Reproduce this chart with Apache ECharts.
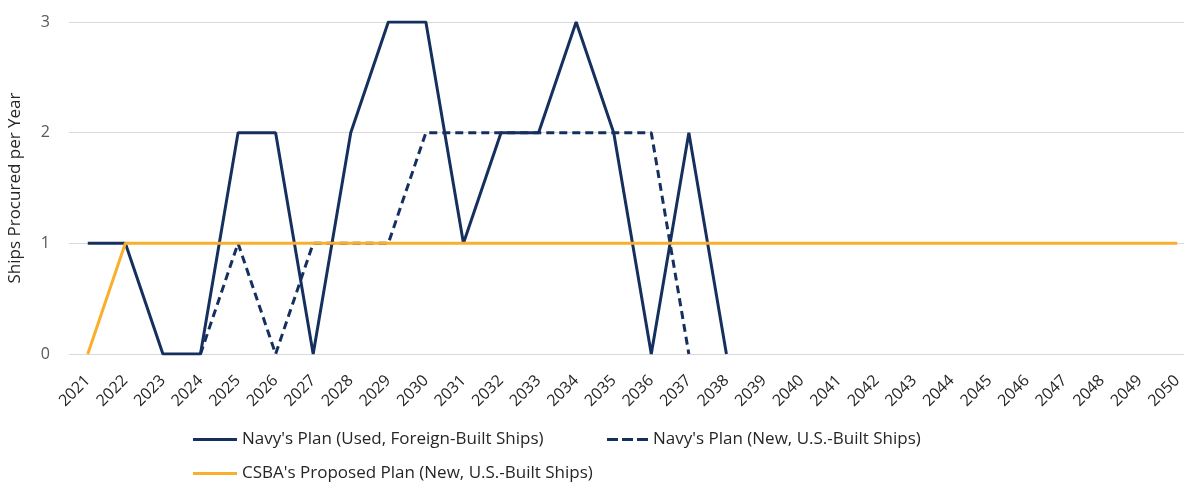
<!DOCTYPE html>
<html><head><meta charset="utf-8">
<script src="https://cdn.jsdelivr.net/npm/echarts@6/dist/echarts.min.js"></script>
<style>html,body{margin:0;padding:0;background:#fff}#c{width:1184px;height:483px}</style>
</head><body><div id="c"></div>
<script>
const years = [];
for (let y = 2021; y <= 2050; y++) years.push(String(y));
const navyUsed = [1,1,0,0,2,2,0,2,3,3,1,2,2,3,2,0,2,0];
const navyNew = [null,null,null,0,1,0,1,1,1,2,2,2,2,2,2,2,0];
const csba = [0,1,1,1,1,1,1,1,1,1,1,1,1,1,1,1,1,1,1,1,1,1,1,1,1,1,1,1,1,1];
const yTicks = [0,1,2,3];
const names = ["Navy's Plan (Used, Foreign-Built Ships)", "Navy's Plan (New, U.S.-Built Ships)", "CSBA's Proposed Plan (New, U.S.-Built Ships)"];
const NAVY = '#15305f', ORANGE = '#f9af2c';
const FONT = 'Open Sans';
const SOLID = 'path://M0,0 L44,0 L44,3 L0,3 Z';
const DASHED = 'path://M0,0 L11,0 L11,3 L0,3 Z M15,0 L26,0 L26,3 L15,3 Z M30,0 L41,0 L41,3 L30,3 Z';
const legendText = {fontFamily: FONT, fontSize: 17, color: '#262626'};
const chart = echarts.init(document.getElementById('c'));
chart.setOption({
  animation: false,
  textStyle: {fontFamily: FONT},
  grid: {left: 69, width: 1127, top: 22, bottom: 129, containLabel: false, outerBoundsMode: 'none'},
  legend: [
    {data: [{name: names[0], icon: SOLID}], left: 193, top: 431, padding: 0, itemWidth: 44, itemHeight: 3, textStyle: legendText},
    {data: [{name: names[1], icon: DASHED}], left: 607, top: 431, padding: 0, itemWidth: 41, itemHeight: 3, textStyle: legendText},
    {data: [{name: names[2], icon: SOLID}], left: 193, top: 465, padding: 0, itemWidth: 44, itemHeight: 3, textStyle: legendText}
  ],
  xAxis: {
    type: 'category', data: years, boundaryGap: true,
    axisLine: {show: false}, axisTick: {show: false},
    axisLabel: {rotate: 45, interval: 0, fontSize: 16, color: '#262626', margin: 24, fontFamily: FONT}
  },
  yAxis: {
    type: 'value', min: 0, max: 3, interval: 1,
    name: 'Ships Procured per Year', nameLocation: 'middle', nameGap: 45,
    nameTextStyle: {fontSize: 17, color: '#262626', fontFamily: FONT},
    axisLabel: {fontSize: 16, color: '#595959', margin: 19, fontFamily: FONT,
      formatter: v => yTicks.includes(v) ? String(v) : ''},
    splitLine: {lineStyle: {color: '#d9d9d9', width: 1}}
  },
  series: [
    {name: names[0], type: 'line', data: navyUsed, symbol: 'none', z: 3,
     lineStyle: {color: NAVY, width: 3}, itemStyle: {color: NAVY}},
    {name: names[1], type: 'line', data: navyNew, symbol: 'none', z: 2,
     lineStyle: {color: NAVY, width: 3, type: [8, 5]}, itemStyle: {color: NAVY}},
    {name: names[2], type: 'line', data: csba, symbol: 'none', z: 4,
     lineStyle: {color: ORANGE, width: 3}, itemStyle: {color: ORANGE}}
  ]
});
</script></body></html>
